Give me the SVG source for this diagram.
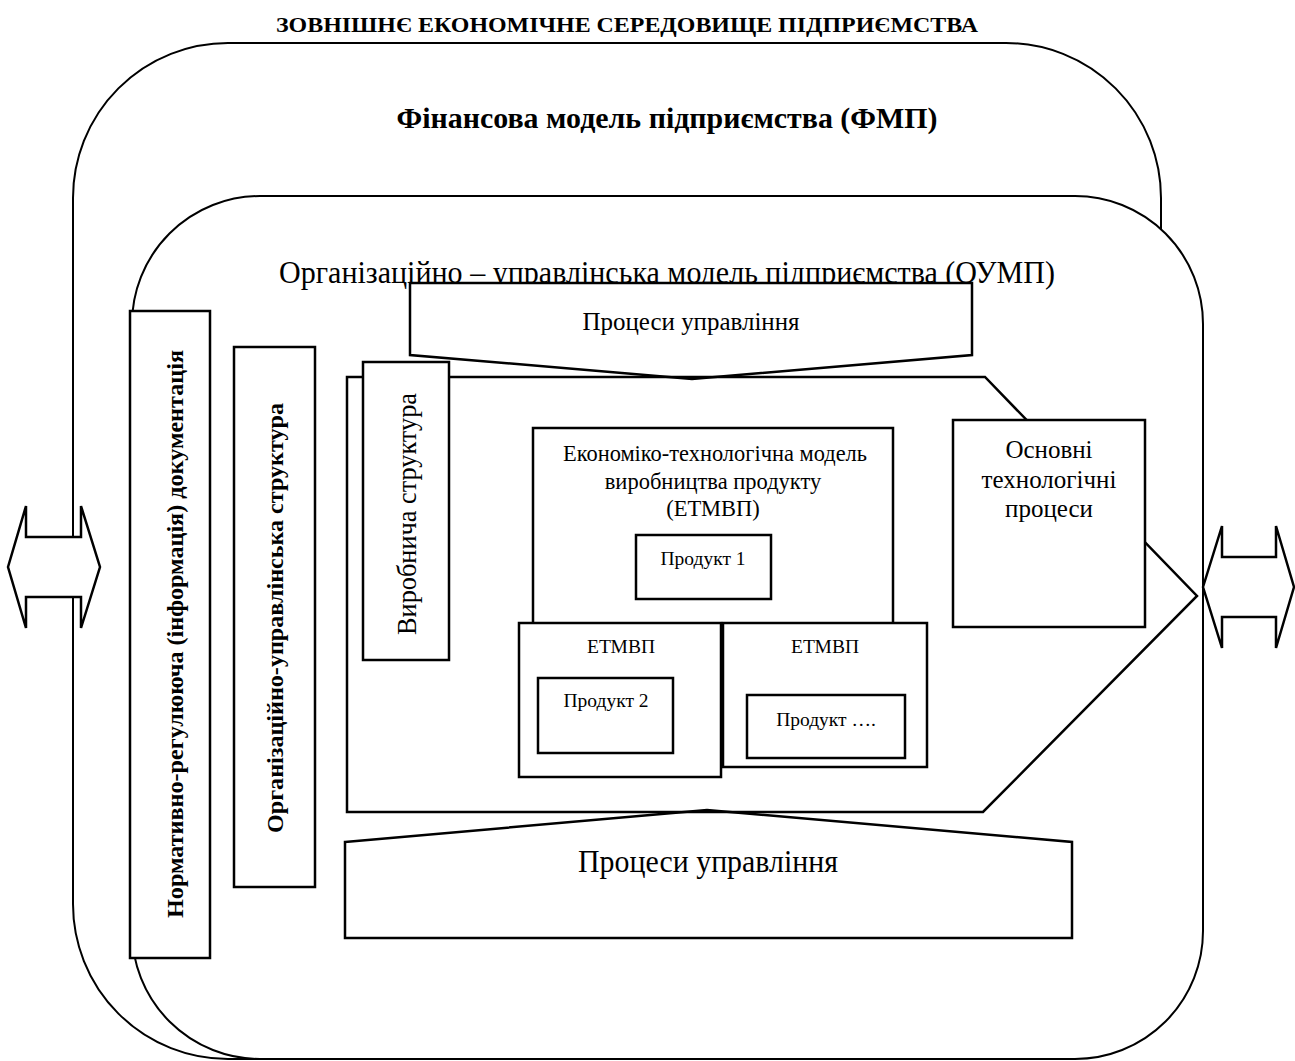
<svg xmlns="http://www.w3.org/2000/svg" width="1295" height="1061" viewBox="0 0 1295 1061">
<style>
.t{font-family:"Liberation Serif","Times New Roman",serif;fill:#000}
.b{font-weight:bold}
.rr{fill:#fff;stroke:#000;stroke-width:2}
.bx{fill:#fff;stroke:#000;stroke-width:2.5}
.ln{fill:none;stroke:#000;stroke-width:2.5}
</style>
<rect width="1295" height="1061" fill="#fff"/>
<text class="t b" x="627" y="32" font-size="21" text-anchor="middle" textLength="702" lengthAdjust="spacingAndGlyphs">ЗОВНІШНЄ ЕКОНОМІЧНЕ СЕРЕДОВИЩЕ ПІДПРИЄМСТВА</text>
<g id="fmp">
<rect class="rr" x="73" y="43" width="1088" height="1016" rx="155" ry="155"/>
<text class="t b" x="667" y="128" font-size="30" text-anchor="middle" textLength="541" lengthAdjust="spacingAndGlyphs">Фінансова модель підприємства (ФМП)</text>
</g>
<g id="oump">
<rect class="rr" x="132" y="196" width="1071" height="863" rx="128" ry="128"/>
<text class="t" x="667" y="283" font-size="31" text-anchor="middle" textLength="776" lengthAdjust="spacingAndGlyphs">Організаційно – управлінська модель підприємства (ОУМП)</text>
</g>
<g id="arrow-left">
<polygon class="bx" stroke-width="2" points="8,567 26,506 26,537 81,537 81,506 100,567 81,628 81,597 26,597 26,628"/>
</g>
<g id="arrow-right">
<polygon class="bx" stroke-width="2" points="1203,587 1222,526 1222,557 1276,557 1276,526 1294,587 1276,648 1276,617 1222,617 1222,648"/>
</g>
<g id="proc-top">
<polygon class="bx" points="410,283 972,283 972,355 692,379 410,355"/>
<text class="t" x="691" y="330" font-size="25" text-anchor="middle" textLength="217" lengthAdjust="spacingAndGlyphs">Процеси управління</text>
</g>
<g id="proc-bottom">
<polygon class="bx" points="345,842 707,810 1072,842 1072,938 345,938"/>
<text class="t" x="708" y="872" font-size="31" text-anchor="middle" textLength="260" lengthAdjust="spacingAndGlyphs">Процеси управління</text>
</g>
<g id="production">
<polygon class="ln" points="347,377 985,377 1197,596 983,812 347,812"/>
</g>
<g id="norm-doc">
<rect class="bx" x="130" y="311" width="80" height="647"/>
<text class="t b" transform="translate(183,634) rotate(-90)" font-size="24" text-anchor="middle" textLength="568" lengthAdjust="spacingAndGlyphs">Нормативно-регулююча (інформація) документація</text>
</g>
<g id="org-struct">
<rect class="bx" x="234" y="347" width="81" height="540"/>
<text class="t b" transform="translate(283,618) rotate(-90)" font-size="24" text-anchor="middle" textLength="430" lengthAdjust="spacingAndGlyphs">Організаційно-управлінська структура</text>
</g>
<g id="prod-struct">
<rect class="bx" x="363" y="362" width="86" height="298"/>
<text class="t" transform="translate(416,514) rotate(-90)" font-size="27" text-anchor="middle" textLength="242" lengthAdjust="spacingAndGlyphs">Виробнича структура</text>
</g>
<g id="etmvp">
<rect class="bx" x="533" y="428" width="360" height="200"/>
<text class="t" x="715" y="461" font-size="22.5" text-anchor="middle" textLength="304" lengthAdjust="spacingAndGlyphs">Економіко-технологічна модель</text>
<text class="t" x="713" y="489" font-size="22.5" text-anchor="middle">виробництва продукту</text>
<text class="t" x="713" y="516" font-size="22.5" text-anchor="middle">(ЕТМВП)</text>
</g>
<g id="product1">
<rect class="bx" x="636" y="535" width="135" height="64"/>
<text class="t" x="703" y="565" font-size="19.5" text-anchor="middle">Продукт 1</text>
</g>
<g id="etmvp2">
<rect class="bx" x="519" y="623" width="202" height="154"/>
<text class="t" x="621" y="653" font-size="19.5" text-anchor="middle">ЕТМВП</text>
</g>
<g id="product2">
<rect class="bx" x="538" y="678" width="135" height="75"/>
<text class="t" x="606" y="707" font-size="19.5" text-anchor="middle">Продукт 2</text>
</g>
<g id="etmvp3">
<rect class="bx" x="723" y="623" width="204" height="144"/>
<text class="t" x="825" y="653" font-size="19.5" text-anchor="middle">ЕТМВП</text>
</g>
<g id="product3">
<rect class="bx" x="747" y="695" width="158" height="63"/>
<text class="t" x="826" y="726" font-size="19.5" text-anchor="middle">Продукт ….</text>
</g>
<g id="main-tech">
<rect class="bx" x="953" y="420" width="192" height="207"/>
<text class="t" x="1049" y="458" font-size="25" text-anchor="middle">Основні</text>
<text class="t" x="1049" y="488" font-size="25" text-anchor="middle">технологічні</text>
<text class="t" x="1049" y="517" font-size="25" text-anchor="middle">процеси</text>
</g>
</svg>
